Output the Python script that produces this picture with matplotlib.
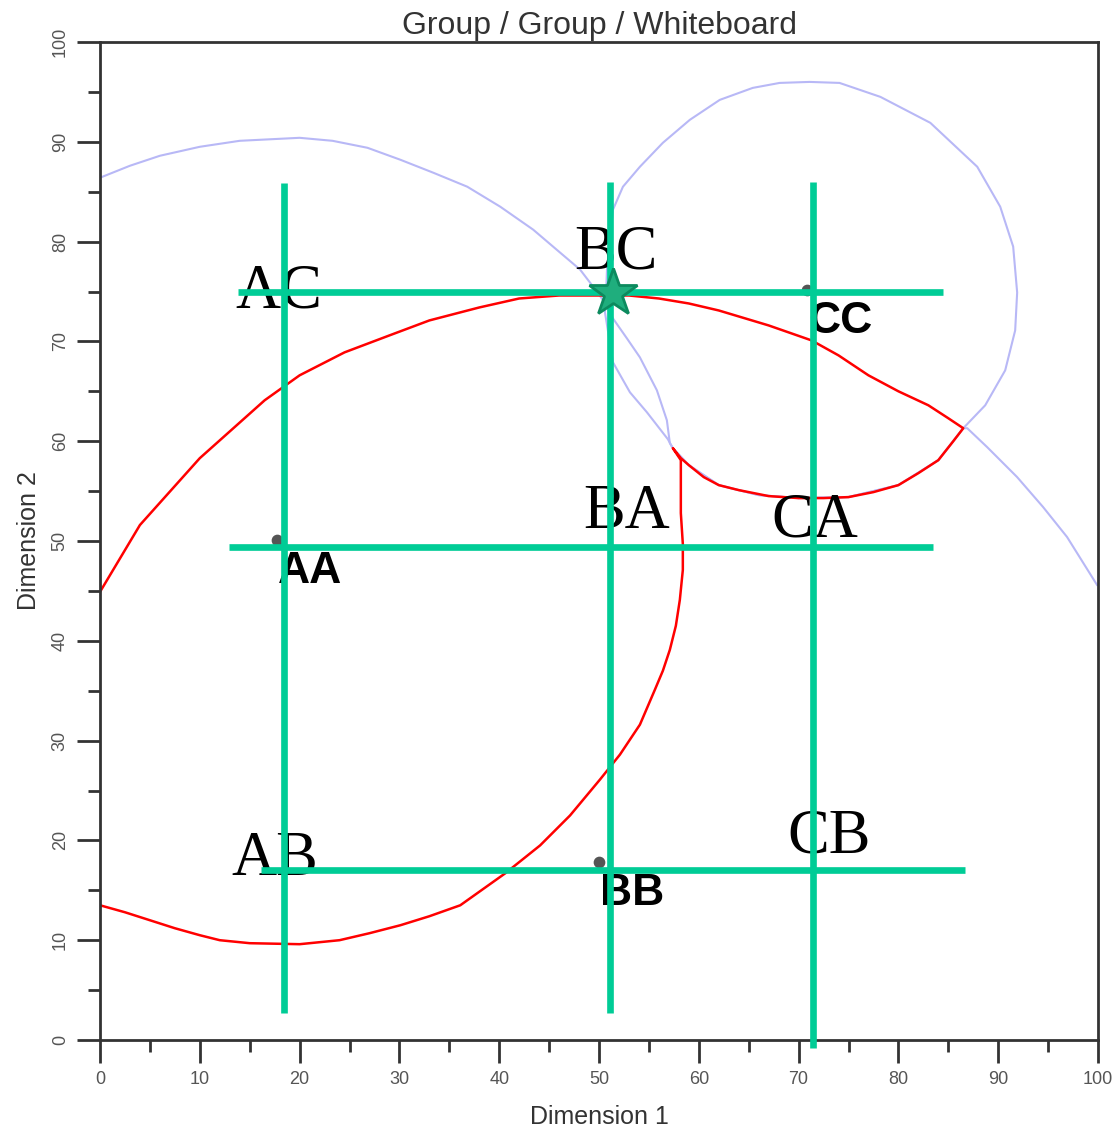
import matplotlib
matplotlib.use("Agg")
import matplotlib.pyplot as plt
from matplotlib.ticker import MultipleLocator

# red boundary curve
red_x = [0, 4, 10, 16.5, 20, 24.5, 29, 33, 38, 42, 46, 50, 53, 56, 59, 62, 67, 71.3, 74, 77, 80, 83, 85, 86.5,
         85.5, 84, 82, 80, 77.5, 75, 72.5, 70, 67, 64, 62, 60.5, 59, 58.2, 57.4,
         58.2, 58.2, 58.2, 58.4, 58.4, 58.1, 57.7, 57.1, 56.4, 55.6, 54.1, 52.1, 50.1, 47.1, 44.1, 40.6, 36.1,
         33, 30.1, 27, 24, 20, 15, 12, 10, 7.5, 5, 2.5, 0]
red_y = [44.9, 51.6, 58.3, 64.1, 66.6, 68.9, 70.6, 72.1, 73.4, 74.3, 74.6, 74.6, 74.6, 74.3, 73.8, 73.1, 71.6, 70.1,
         68.6, 66.6, 65.0, 63.6, 62.3, 61.3,
         60.0, 58.1, 56.8, 55.6, 54.9, 54.4, 54.3, 54.3, 54.5, 55.1, 55.6, 56.4, 57.6, 58.3, 59.3,
         58.1, 55.5, 52.8, 49.7, 47.1, 44.1, 41.5, 39.1, 37.0, 35.1, 31.6, 28.6, 26.1, 22.5, 19.5, 16.7, 13.5,
         12.4, 11.5, 10.7, 10.0, 9.6, 9.7, 10.0, 10.5, 11.2, 12.0, 12.8, 13.5]

# blue curve coming from the left edge
arc_x = [0, 3, 6, 10, 14, 18, 20, 23.3, 26.8, 30.1, 33.4, 36.8, 40.1, 43.4, 46.1, 48.1, 49.4, 50.5, 51.4, 52.8,
         54.1, 55.8, 56.8, 57.1,
         57.4, 59, 62, 66, 70, 75, 80, 84, 86.5, 86.9, 88.9, 91.9, 94.5, 96.9, 99.9]
arc_y = [86.4, 87.6, 88.6, 89.5, 90.1, 90.3, 90.4, 90.1, 89.4, 88.2, 86.9, 85.5, 83.5, 81.2, 78.9, 77.2, 75.5,
         74.0, 72.3, 70.3, 68.4, 65.1, 62.1, 59.8,
         59.3, 57.6, 55.6, 54.6, 54.3, 54.4, 55.6, 58.1, 61.3, 61.3, 59.4, 56.4, 53.4, 50.4, 45.6]

# blue closed loop on the right
loop_x = [50.7, 50.8, 51.1, 51.4, 52.4, 54.1, 56.4, 59.1, 62.1, 65.4, 68.1, 71.1, 74.1, 78.2, 83.2, 87.9, 90.2,
          91.5, 91.9, 91.7, 90.7, 88.7, 86.5, 84, 80, 75, 70, 66, 62, 59, 57.4, 56.9, 54.8, 53.1, 51.4, 50.6, 50.7]
loop_y = [74.6, 77.2, 80.2, 83.2, 85.5, 87.5, 89.9, 92.2, 94.2, 95.4, 95.9, 96.0, 95.9, 94.5, 91.9, 87.5, 83.5,
          79.5, 74.9, 71.1, 67.1, 63.6, 61.3, 58.1, 55.6, 54.4, 54.3, 54.6, 55.6, 57.6, 59.3, 60.2, 62.9, 64.9,
          67.9, 72.9, 74.6]

# stimulus points
pt_names = ["AA", "BB", "CC"]
pt_x = [17.7, 50.0, 70.8]
pt_y = [50.1, 17.8, 75.2]

# green grid overlay
vline_x = [18.4, 51.1, 71.4]
vline_ymin = [2.7, 2.7, -0.8]
vline_ymax = [85.9, 86.0, 86.0]
hline_y = [74.9, 49.4, 17.0]
hline_xmin = [13.8, 12.9, 16.1]
hline_xmax = [84.5, 83.5, 86.7]

cell_labels = ["AC", "BC", "BA", "CA", "AB", "CB"]
cell_x = [13.6, 47.5, 48.4, 67.3, 13.2, 68.9]
cell_y = [73.4, 77.3, 51.3, 50.5, 16.5, 18.8]

star_x, star_y = 51.4, 74.8

green = "#00cc96"
gray = "#333333"

fig = plt.figure(figsize=(11.13, 11.31), dpi=100)
ax = fig.add_axes([100 / 1113, 91 / 1131, 998 / 1113, 998 / 1131])

ax.plot(arc_x, arc_y, color="#b8b8f6", lw=1.5, zorder=1)
ax.plot(loop_x, loop_y, color="#b8b8f6", lw=1.5, zorder=1)
ax.plot(red_x, red_y, color="#ff0000", lw=1.8, zorder=2)

ax.scatter(pt_x, pt_y, s=55, color="#555555", zorder=3)
for name, x, y in zip(pt_names, pt_x, pt_y):
    ax.annotate(name, (x, y), xytext=(1, -8), textcoords="offset points",
                ha="left", va="top", fontsize=32, fontweight="bold",
                family="Liberation Sans", color="black", zorder=3)

for x, y0, y1 in zip(vline_x, vline_ymin, vline_ymax):
    ax.plot([x, x], [y0, y1], color=green, lw=4.8, solid_capstyle="butt", clip_on=False, zorder=5)
for y, x0, x1 in zip(hline_y, hline_xmin, hline_xmax):
    ax.plot([x0, x1], [y, y], color=green, lw=4.8, solid_capstyle="butt", clip_on=False, zorder=5)

for lab, x, y in zip(cell_labels, cell_x, cell_y):
    ax.text(x, y, lab, ha="left", va="baseline", fontsize=45,
            family="Liberation Serif", color="black", zorder=4)

ax.plot(star_x, star_y, marker="*", ms=36, mfc="#1fae7d", mec="#0c8a5e", mew=2, zorder=6)

ax.set_xlim(0, 100)
ax.set_ylim(0, 100)
ax.xaxis.set_major_locator(MultipleLocator(10))
ax.xaxis.set_minor_locator(MultipleLocator(5))
ax.yaxis.set_major_locator(MultipleLocator(10))
ax.yaxis.set_minor_locator(MultipleLocator(5))
ax.tick_params(which="major", length=16.5, width=2, color=gray, pad=6,
               labelsize=13, labelcolor="#555555")
ax.tick_params(which="minor", length=8.5, width=2, color=gray)
for lbl in ax.get_yticklabels():
    lbl.set_rotation(90)
    lbl.set_va("center")
for lbl in ax.get_xticklabels() + ax.get_yticklabels():
    lbl.set_family("Liberation Sans")
for sp in ax.spines.values():
    sp.set_color(gray)
    sp.set_linewidth(2)

ax.set_xlabel("Dimension 1", fontsize=18, family="Liberation Sans", color=gray, labelpad=12)
ax.set_ylabel("Dimension 2", fontsize=18, family="Liberation Sans", color=gray, labelpad=8)
ax.set_title("Group / Group / Whiteboard", fontsize=23, family="Liberation Sans", color=gray, pad=6)

fig.savefig("out.png", dpi=100)
